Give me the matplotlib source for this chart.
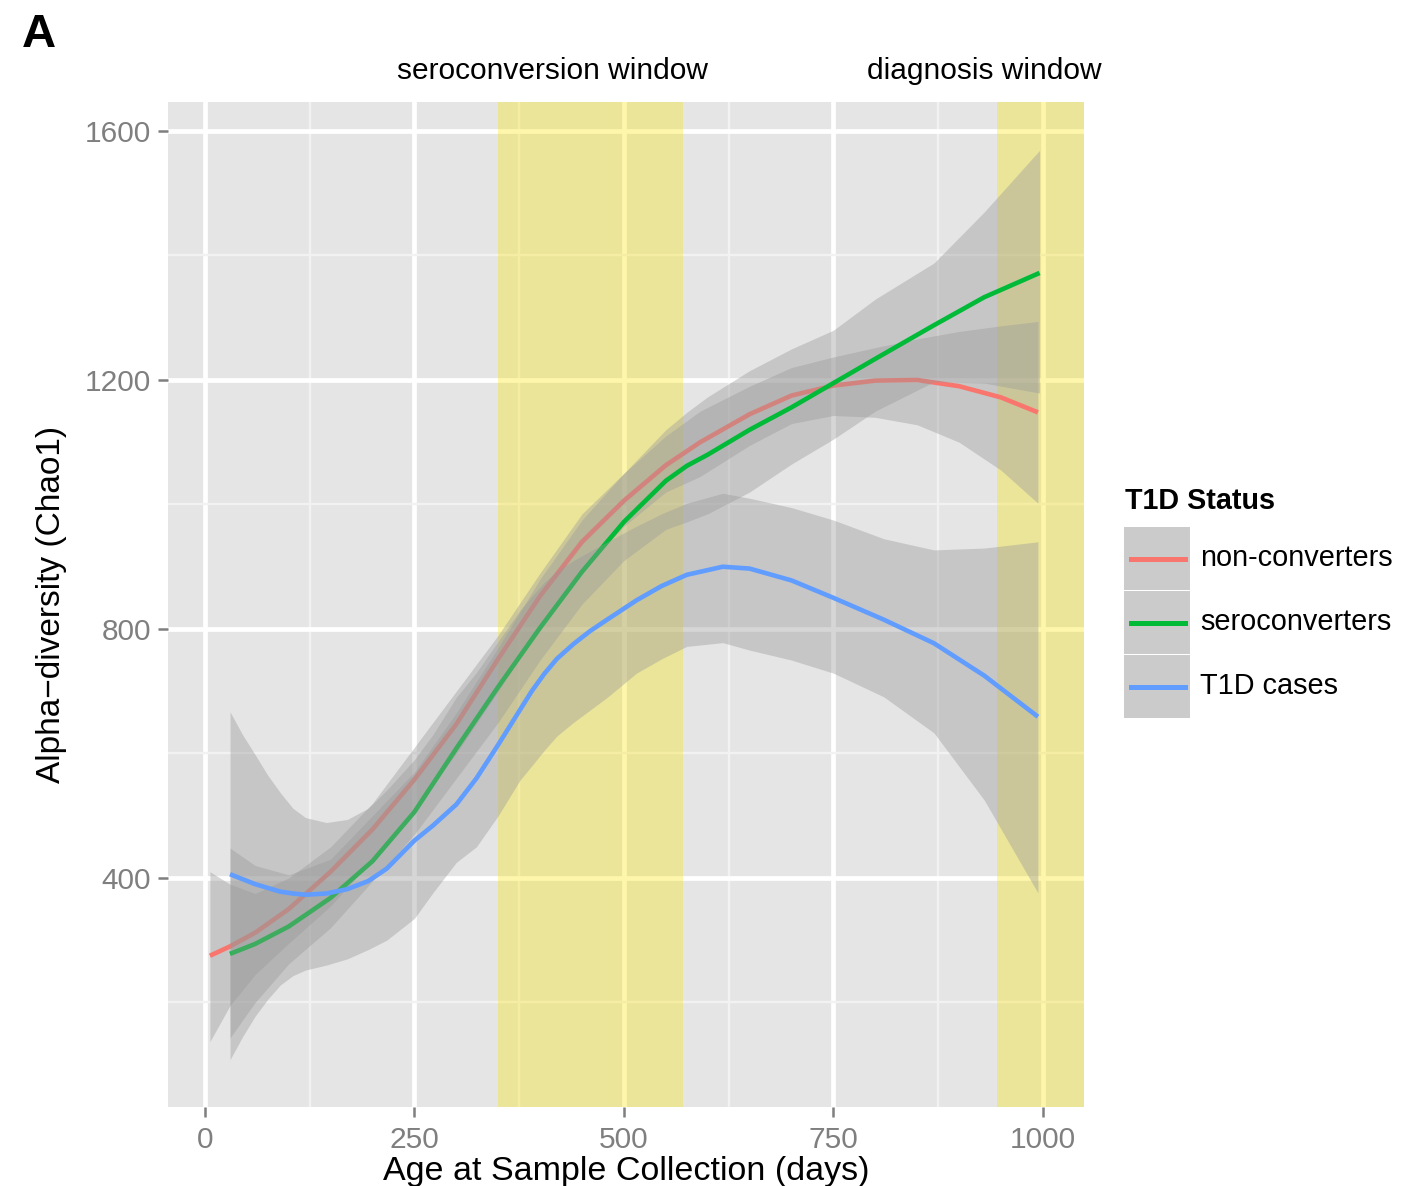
import matplotlib
matplotlib.use("Agg")
import matplotlib.pyplot as plt
from matplotlib.patches import Rectangle
from matplotlib.lines import Line2D

plt.rcParams['font.family'] = ['Liberation Sans', 'DejaVu Sans']

# --- data (age in days, Chao1) ---
groups = ['non-converters', 'seroconverters', 'T1D cases']
colors = ['#F8766D', '#00BA38', '#619CFF']

nc_x = [6, 30, 60, 100, 150, 200, 250, 300, 350, 400, 450, 500, 550, 591,
        650, 700, 750, 800, 850, 900, 950, 994]
nc_y = [275, 290, 312, 350, 410, 478, 558, 647, 752, 853, 940, 1006, 1063, 1100,
        1145, 1175, 1191, 1199, 1200, 1190, 1172, 1148]
nc_lo = [137, 195, 245, 295, 355, 430, 510, 600, 700, 805, 895, 965, 1020, 1045,
         1095, 1130, 1143, 1140, 1128, 1100, 1055, 1002]
nc_hi = [410, 390, 375, 400, 450, 520, 610, 700, 790, 890, 985, 1050, 1110, 1150,
         1190, 1220, 1237, 1252, 1266, 1278, 1287, 1294]

sc_x = [30, 60, 100, 150, 200, 250, 300, 350, 400, 450, 500, 550, 575, 600, 650,
        700, 750, 800, 870, 930, 996]
sc_y = [278, 294, 322, 368, 427, 506, 608, 707, 802, 892, 972, 1038, 1062, 1080, 1120,
        1156, 1195, 1234, 1288, 1333, 1372]
sc_lo = [143, 200, 262, 320, 395, 470, 560, 650, 750, 840, 910, 960, 972, 985, 1020,
         1065, 1105, 1150, 1197, 1195, 1179]
sc_hi = [448, 420, 405, 430, 500, 570, 665, 770, 880, 975, 1050, 1120, 1148, 1173, 1215,
         1250, 1280, 1330, 1388, 1470, 1569]

t1d_x = [30, 45, 60, 75, 90, 105, 120, 145, 170, 195, 217, 250, 272, 300, 324,
         350, 376, 390, 405, 420, 440, 460, 480, 515, 545, 575, 618, 650, 700,
         750, 810, 870, 930, 994]
t1d_y = [406, 398, 390, 384, 378, 375, 373, 375, 382, 395, 415, 460, 484, 518, 560,
         614, 670, 700, 728, 752, 776, 797, 815, 846, 869, 887, 900, 897, 878,
         850, 815, 777, 725, 659]
t1d_lo = [108, 145, 178, 205, 228, 243, 252, 260, 270, 285, 300, 335, 376, 425, 450,
          500, 557, 580, 605, 628, 650, 670, 690, 729, 752, 772, 778, 766, 750,
          729, 691, 633, 525, 376]
t1d_hi = [667, 630, 598, 565, 537, 512, 497, 489, 494, 512, 541, 590, 630, 690, 730,
          780, 830, 852, 875, 893, 910, 925, 940, 965, 985, 1002, 1018, 1010, 995,
          975, 945, 927, 930, 940]

windows = [(350, 570), (945, 1060)]
window_labels = ['seroconversion window', 'diagnosis window']
window_label_x = [415, 930]

W, H = 1419, 1186
fig = plt.figure(figsize=(W / 100, H / 100), dpi=100)
ax = fig.add_axes([168 / W, 1 - 1107 / H, 916 / W, 1005 / H])

ax.set_facecolor('#E5E5E5')
for s in ax.spines.values():
    s.set_visible(False)

ax.set_xlim(-44, 1049)
ax.set_ylim(32, 1646.6)
ax.set_xticks([0, 250, 500, 750, 1000])
ax.set_xticks([125, 375, 625, 875], minor=True)
ax.set_yticks([400, 800, 1200, 1600])
ax.set_yticks([200, 600, 1000, 1400], minor=True)
ax.grid(True, which='major', color='white', linewidth=3.4)
ax.grid(True, which='minor', color='#F2F2F2', linewidth=1.7)
ax.set_axisbelow(True)
ax.tick_params(which='major', length=7, width=1.8, color='#7F7F7F',
               labelcolor='#7F7F7F', labelsize=21.5, pad=5)
ax.tick_params(axis='x', which='major', pad=7)
ax.tick_params(which='minor', length=0)

for (a, b) in windows:
    ax.axvspan(a, b, facecolor='#FAE502', alpha=0.33, edgecolor='none', zorder=1)

series = [(nc_x, nc_y, nc_lo, nc_hi), (sc_x, sc_y, sc_lo, sc_hi),
          (t1d_x, t1d_y, t1d_lo, t1d_hi)]
z = 2
for (x, y, lo, hi), c in zip(series, colors):
    ax.fill_between(x, lo, hi, color='#999999', alpha=0.4, linewidth=0, zorder=z)
    ax.plot(x, y, color=c, linewidth=3.3, zorder=z + 1, solid_capstyle='butt')
    z += 2

for lab, xc in zip(window_labels, window_label_x):
    ax.text(xc, 1696, lab, ha='center', va='center', fontsize=21.5, clip_on=False)

ax.set_xlabel('Age at Sample Collection (days)', fontsize=24.5, labelpad=1)
ax.set_ylabel('Alpha\u2212diversity (Chao1)', fontsize=24, labelpad=13)

fig.text(22 / W, 1 - 35 / H, 'A', fontsize=34, fontweight='bold', va='center', ha='left')


# legend drawn by hand in pixel positions
def fx(px):
    return px / W


def fy(py):
    return 1 - py / H


fig.text(fx(1125), fy(501), 'T1D Status', fontsize=20.7, fontweight='bold',
         va='center', ha='left')
for i, (g, c) in enumerate(zip(groups, colors)):
    top = 527 + i * 64
    fig.add_artist(Rectangle((fx(1124), fy(top + 63)), 66 / W, 63 / H,
                             transform=fig.transFigure, facecolor='#CBCBCB',
                             edgecolor='none'))
    yc = top + 31.5
    fig.add_artist(Line2D([fx(1131), fx(1185)], [fy(yc), fy(yc)],
                          transform=fig.transFigure, color=c, linewidth=3.6))
    fig.text(fx(1200), fy(yc), g, fontsize=20.8, va='center', ha='left')

fig.savefig('out.png', dpi=100)
